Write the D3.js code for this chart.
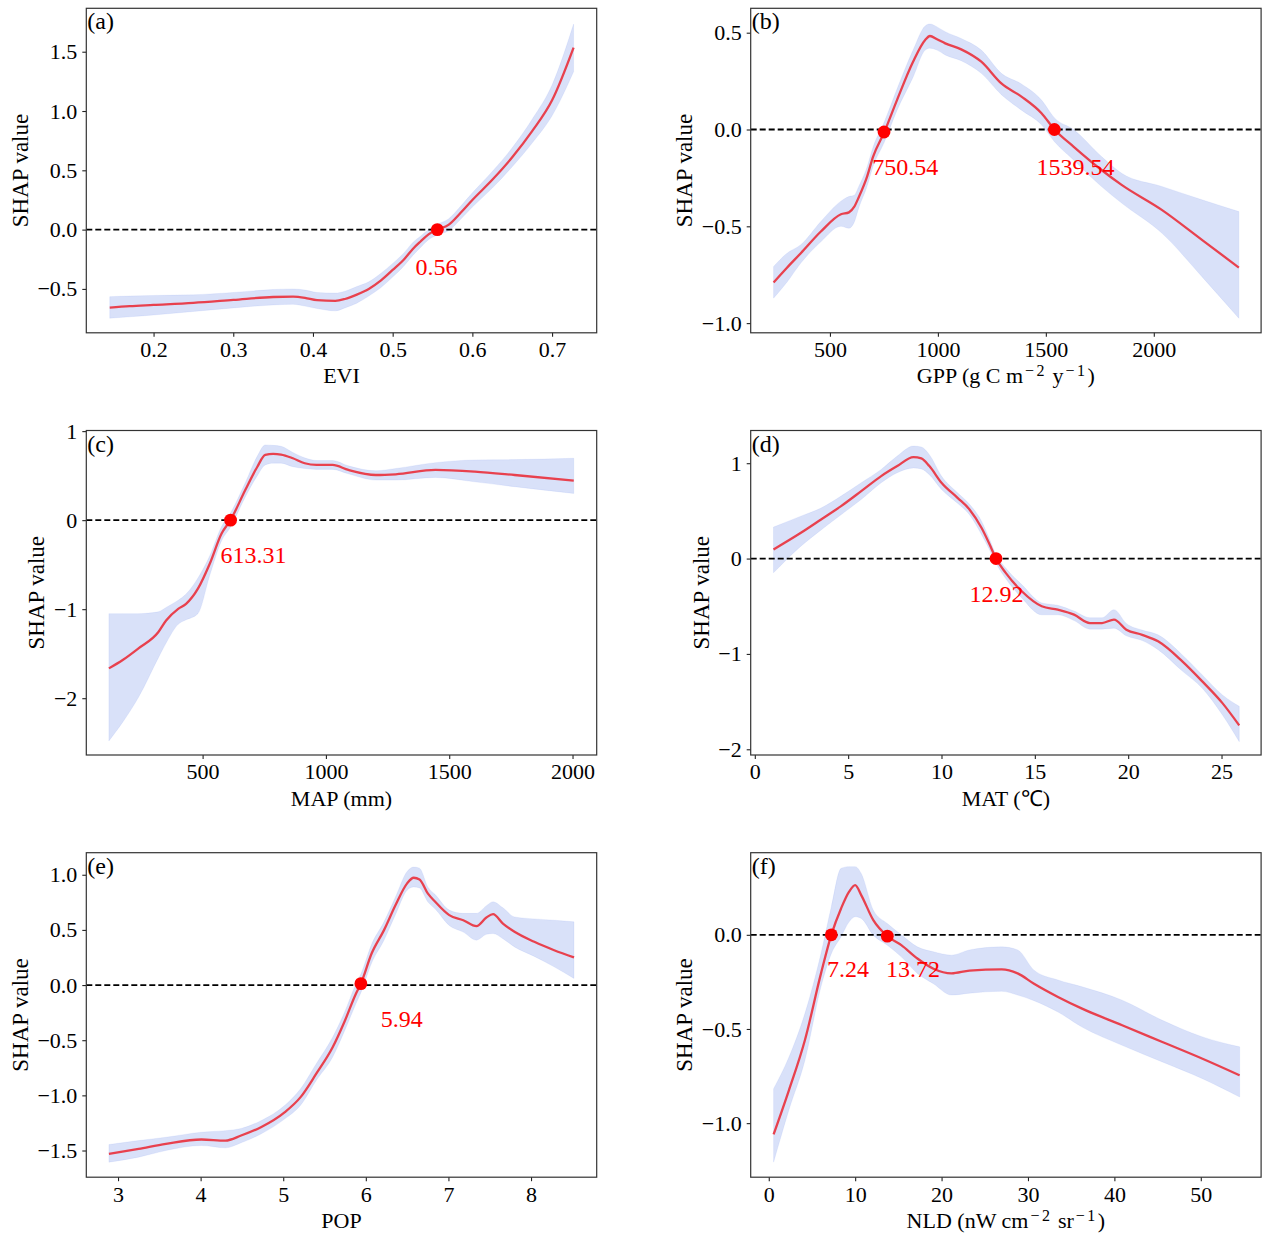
<!DOCTYPE html>
<html>
<head>
<meta charset="utf-8">
<script src="https://cdn.jsdelivr.net/npm/d3@7"></script>
<style>
	body { margin: 0; background: #fff; }
	svg text { font-family: "Liberation Serif", "Times New Roman", serif; }
</style>
</head>
<body>
<svg id="chart" width="1269" height="1249"></svg>
<script>
// (a) EVI
const eviX = [0.145, 0.17, 0.2, 0.25, 0.3, 0.35, 0.375, 0.39, 0.405, 0.428, 0.44, 0.455, 0.47, 0.485, 0.5, 0.515, 0.525, 0.535, 0.545, 0.556, 0.57, 0.585, 0.6, 0.625, 0.65, 0.675, 0.7, 0.727];
const eviShap = [-0.657, -0.645, -0.635, -0.618, -0.593, -0.568, -0.565, -0.575, -0.595, -0.600, -0.585, -0.548, -0.50, -0.43, -0.34, -0.245, -0.165, -0.10, -0.04, 0.0, 0.04, 0.14, 0.25, 0.42, 0.61, 0.83, 1.09, 1.534];
const eviHi = [-0.565, -0.56, -0.555, -0.55, -0.53, -0.505, -0.50, -0.51, -0.53, -0.535, -0.52, -0.48, -0.44, -0.37, -0.285, -0.19, -0.11, -0.055, 0.0, 0.045, 0.09, 0.195, 0.31, 0.49, 0.69, 0.93, 1.22, 1.733];
const eviLo = [-0.747, -0.735, -0.72, -0.69, -0.66, -0.635, -0.63, -0.645, -0.665, -0.685, -0.66, -0.62, -0.56, -0.49, -0.40, -0.30, -0.22, -0.15, -0.085, -0.045, -0.01, 0.085, 0.19, 0.35, 0.53, 0.73, 0.96, 1.331];
const eviCross = [0.556];
const eviCrossShap = [0.0];
const eviTicks = [0.2, 0.3, 0.4, 0.5, 0.6, 0.7];
const eviShapTicks = [-0.5, 0, 0.5, 1, 1.5];

// (b) GPP
const gppX = [239, 300, 365, 458, 551, 588, 612, 635, 670, 700, 752, 811, 885, 941, 963, 996, 1034, 1108, 1201, 1294, 1387, 1480, 1540, 1628, 1758, 1851, 2037, 2223, 2394];
const gppShap = [-0.790, -0.715, -0.639, -0.527, -0.438, -0.428, -0.40, -0.346, -0.25, -0.14, -0.013, 0.153, 0.35, 0.462, 0.483, 0.466, 0.445, 0.414, 0.35, 0.238, 0.17, 0.084, 0.0, -0.088, -0.209, -0.286, -0.415, -0.57, -0.713];
const gppHi = [-0.708, -0.64, -0.595, -0.475, -0.37, -0.346, -0.34, -0.29, -0.20, -0.09, 0.04, 0.21, 0.41, 0.535, 0.545, 0.53, 0.505, 0.47, 0.41, 0.29, 0.235, 0.152, 0.06, 0.0, -0.14, -0.226, -0.294, -0.363, -0.424];
const gppLo = [-0.871, -0.79, -0.69, -0.58, -0.50, -0.51, -0.48, -0.40, -0.30, -0.19, -0.065, 0.10, 0.27, 0.41, 0.42, 0.41, 0.385, 0.355, 0.29, 0.18, 0.10, 0.024, -0.063, -0.157, -0.295, -0.38, -0.535, -0.76, -0.975];
const gppCross = [750.54, 1539.54];
const gppCrossShap = [-0.013, 0.0];
const gppTicks = [500, 1000, 1500, 2000];
const gppShapTicks = [-1, -0.5, 0, 0.5];

// (c) MAP
const mapX = [120, 176, 240, 320, 352, 401, 433, 481, 529, 577, 613, 673, 722, 754, 786, 818, 866, 914, 962, 1027, 1091, 1203, 1283, 1444, 1604, 1765, 2005];
const mapShap = [-1.665, -1.571, -1.44, -1.259, -1.127, -0.996, -0.94, -0.77, -0.49, -0.15, 0.0, 0.338, 0.6, 0.733, 0.744, 0.737, 0.695, 0.639, 0.62, 0.62, 0.564, 0.507, 0.515, 0.564, 0.545, 0.507, 0.443];
const mapHi = [-1.05, -1.05, -1.05, -1.03, -0.98, -0.90, -0.83, -0.65, -0.40, -0.07, 0.08, 0.42, 0.72, 0.845, 0.84, 0.83, 0.76, 0.70, 0.67, 0.67, 0.61, 0.555, 0.58, 0.646, 0.676, 0.68, 0.695];
const mapLo = [-2.48, -2.27, -1.99, -1.55, -1.38, -1.17, -1.12, -1.05, -0.62, -0.23, -0.08, 0.26, 0.50, 0.62, 0.64, 0.64, 0.60, 0.58, 0.57, 0.57, 0.52, 0.45, 0.45, 0.48, 0.43, 0.376, 0.30];
const mapCross = [613.31];
const mapCrossShap = [0.0];
const mapTicks = [500, 1000, 1500, 2000];
const mapShapTicks = [-2, -1, 0, 1];

// (d) MAT
const matX = [1.0, 2.47, 3.55, 4.62, 5.7, 6.77, 7.63, 8.5, 8.92, 9.35, 10.0, 10.86, 11.5, 12.15, 12.58, 12.92, 13.44, 14.3, 15.37, 16.23, 17.1, 17.95, 18.6, 19.24, 19.9, 20.75, 21.6, 22.9, 23.97, 25.05, 25.95];
const matShap = [0.095, 0.27, 0.41, 0.55, 0.707, 0.865, 0.97, 1.064, 1.05, 0.97, 0.795, 0.637, 0.515, 0.32, 0.147, 0.0, -0.15, -0.343, -0.50, -0.536, -0.588, -0.676, -0.676, -0.64, -0.746, -0.80, -0.868, -1.078, -1.288, -1.516, -1.75];
const matHi = [0.33, 0.445, 0.53, 0.655, 0.795, 0.935, 1.075, 1.18, 1.17, 1.09, 0.865, 0.69, 0.57, 0.39, 0.20, 0.04, -0.10, -0.273, -0.465, -0.49, -0.55, -0.62, -0.62, -0.536, -0.68, -0.75, -0.80, -1.01, -1.22, -1.43, -1.55];
const matLo = [-0.15, 0.13, 0.30, 0.46, 0.62, 0.795, 0.90, 0.95, 0.94, 0.88, 0.725, 0.58, 0.46, 0.25, 0.09, -0.05, -0.21, -0.413, -0.59, -0.59, -0.65, -0.74, -0.74, -0.73, -0.81, -0.86, -0.955, -1.18, -1.36, -1.64, -1.92];
const matCross = [12.92];
const matCrossShap = [0.0];
const matTicks = [0, 5, 10, 15, 20, 25];
const matShapTicks = [-2, -1, 0, 1];

// (e) POP
const popX = [2.89, 3.25, 3.58, 4.01, 4.3, 4.49, 4.73, 5.02, 5.21, 5.40, 5.6, 5.74, 5.88, 5.94, 6.07, 6.22, 6.36, 6.5, 6.58, 6.65, 6.75, 6.84, 7.01, 7.18, 7.34, 7.46, 7.54, 7.66, 7.8, 8.04, 8.28, 8.52];
const popShap = [-1.531, -1.485, -1.44, -1.40, -1.41, -1.364, -1.289, -1.152, -1.016, -0.804, -0.562, -0.335, -0.078, 0.013, 0.286, 0.498, 0.725, 0.922, 0.973, 0.958, 0.831, 0.755, 0.634, 0.588, 0.534, 0.613, 0.643, 0.558, 0.483, 0.392, 0.316, 0.25];
const popHi = [-1.446, -1.41, -1.38, -1.334, -1.32, -1.30, -1.23, -1.09, -0.94, -0.713, -0.47, -0.25, 0.01, 0.10, 0.37, 0.573, 0.80, 1.03, 1.07, 1.06, 0.89, 0.82, 0.68, 0.65, 0.65, 0.72, 0.755, 0.70, 0.618, 0.60, 0.588, 0.573];
const popLo = [-1.606, -1.56, -1.50, -1.455, -1.476, -1.43, -1.35, -1.213, -1.09, -0.865, -0.65, -0.42, -0.17, -0.07, 0.20, 0.407, 0.64, 0.86, 0.89, 0.88, 0.755, 0.69, 0.54, 0.48, 0.407, 0.46, 0.467, 0.42, 0.346, 0.26, 0.165, 0.06];
const popCross = [5.94];
const popCrossShap = [0.013];
const popTicks = [3, 4, 5, 6, 7, 8];
const popShapTicks = [-1.5, -1, -0.5, 0, 0.5, 1];

// (f) NLD
const nldX = [0.56, 2.33, 4.18, 6.04, 7.24, 8.37, 9.3, 10.0, 10.7, 12.1, 13.72, 15.34, 17.2, 19.06, 21.15, 23.24, 26.96, 28.8, 30.7, 33.47, 36.26, 40.9, 45.55, 50.2, 54.5];
const nldShap = [-1.060, -0.826, -0.56, -0.206, 0.0, 0.14, 0.229, 0.264, 0.211, 0.078, -0.007, -0.055, -0.126, -0.18, -0.205, -0.19, -0.184, -0.205, -0.26, -0.33, -0.392, -0.48, -0.569, -0.658, -0.746];
const nldHi = [-0.817, -0.65, -0.418, -0.10, 0.149, 0.353, 0.362, 0.362, 0.326, 0.131, 0.06, 0.0, -0.064, -0.09, -0.108, -0.08, -0.064, -0.08, -0.188, -0.24, -0.276, -0.347, -0.454, -0.542, -0.595];
const nldLo = [-1.207, -0.93, -0.667, -0.276, -0.10, -0.01, 0.069, 0.096, 0.087, -0.002, -0.055, -0.117, -0.205, -0.26, -0.32, -0.31, -0.30, -0.32, -0.35, -0.41, -0.49, -0.587, -0.675, -0.764, -0.861];
const nldCross = [7.24, 13.72];
const nldCrossShap = [0.0, -0.007];
const nldTicks = [0, 10, 20, 30, 40, 50];
const nldShapTicks = [-1, -0.5, 0];

const config = {
	cols: [86.3, 750.7],
	rows: [8.3, 430.5, 852.7],
	width: 510.4,
	height: 324.5,
	line: '#e8414e',
	band: '#4169e1',
	dot: '#ff0000',
	font: 22,
	yLabelFont: 23,
	tagFont: 24,
	labelFont: 24
};

// x / y domains (matplotlib padded limits)
const panels = [
	{ tag: '(a)', x: eviX, y: eviShap, lo: eviLo, hi: eviHi, cx: eviCross, cy: eviCrossShap,
		xDomain: [0.1156, 0.756], yDomain: [-0.870, 1.866], xTicks: eviTicks, yTicks: eviShapTicks,
		xFmt: '.1f', yFmt: '.1f', xLabel: [['EVI']], labelDx: [-21.8], labelDy: 45 },
	{ tag: '(b)', x: gppX, y: gppShap, lo: gppLo, hi: gppHi, cx: gppCross, cy: gppCrossShap,
		xDomain: [133, 2497], yDomain: [-1.050, 0.626], xTicks: gppTicks, yTicks: gppShapTicks,
		xFmt: 'd', yFmt: '.1f', xLabel: [['GPP (g C m'], ['\u22122', 1], [' y'], ['\u22121', 1], [')']], labelDx: [-11.8, -17.8], labelDy: 45 },
	{ tag: '(c)', x: mapX, y: mapShap, lo: mapLo, hi: mapHi, cx: mapCross, cy: mapCrossShap,
		xDomain: [28.4, 2098], yDomain: [-2.638, 1.007], xTicks: mapTicks, yTicks: mapShapTicks,
		xFmt: 'd', yFmt: 'd', xLabel: [['MAP (mm)']], labelDx: [-10], labelDy: 43 },
	{ tag: '(d)', x: matX, y: matShap, lo: matLo, hi: matHi, cx: matCross, cy: matCrossShap,
		xDomain: [-0.22, 27.12], yDomain: [-2.06, 1.343], xTicks: matTicks, yTicks: matShapTicks,
		xFmt: 'd', yFmt: 'd', xLabel: [['MAT (\u2103)']], labelDx: [-26.5], labelDy: 43 },
	{ tag: '(e)', x: popX, y: popShap, lo: popLo, hi: popHi, cx: popCross, cy: popCrossShap,
		xDomain: [2.616, 8.795], yDomain: [-1.742, 1.2], xTicks: popTicks, yTicks: popShapTicks,
		xFmt: 'd', yFmt: '.1f', xLabel: [['POP']], labelDx: [19.8], labelDy: 42 },
	{ tag: '(f)', x: nldX, y: nldShap, lo: nldLo, hi: nldHi, cx: nldCross, cy: nldCrossShap,
		xDomain: [-2.09, 56.98], yDomain: [-1.287, 0.436], xTicks: nldTicks, yTicks: nldShapTicks,
		xFmt: 'd', yFmt: '.1f', xLabel: [['NLD (nW cm'], ['\u22122', 1], [' sr'], ['\u22121', 1], [')']], labelDx: [-4.4, -1.3], labelDy: 42 }
];

function drawPanel(svg, p, i) {
	const w = config.width, h = config.height;
	const left = config.cols[i % 2], top = config.rows[Math.floor(i / 2)];
	const g = svg.append('g').attr('transform', `translate(${left},${top})`);

	const x = d3.scaleLinear().domain(p.xDomain).range([0, w]);
	const y = d3.scaleLinear().domain(p.yDomain).range([h, 0]);
	const rows = p.x.map((d, k) => ({ x: d, y: p.y[k], lo: p.lo[k], hi: p.hi[k] }));

	g.append('path')
		.datum(rows)
		.attr('d', d3.area().x(d => x(d.x)).y0(d => y(d.lo)).y1(d => y(d.hi)).curve(d3.curveMonotoneX))
		.attr('fill', config.band)
		.attr('fill-opacity', 0.2)
		.attr('stroke', config.band)
		.attr('stroke-opacity', 0.08);

	g.append('path')
		.datum(rows)
		.attr('d', d3.line().x(d => x(d.x)).y(d => y(d.y)).curve(d3.curveMonotoneX))
		.attr('fill', 'none')
		.attr('stroke', config.line)
		.attr('stroke-width', 2.3);

	g.append('line')
		.attr('x1', 0).attr('x2', w)
		.attr('y1', y(0)).attr('y2', y(0))
		.attr('stroke', '#000')
		.attr('stroke-width', 1.8)
		.attr('stroke-dasharray', '6,3');

	const pts = p.cx.map((d, k) => ({ x: d, y: p.cy[k], dx: p.labelDx[k] }));

	g.append('g')
		.selectAll('circle')
		.data(pts)
		.enter()
		.append('circle')
		.attr('cx', d => x(d.x))
		.attr('cy', d => y(d.y))
		.attr('r', 6.4)
		.attr('fill', config.dot);

	g.append('g')
		.selectAll('text')
		.data(pts)
		.enter()
		.append('text')
		.attr('x', d => x(d.x) + d.dx)
		.attr('y', y(0) + p.labelDy)
		.attr('fill', config.dot)
		.style('font-size', config.labelFont + 'px')
		.text(d => d.x.toFixed(2));

	const xAxis = g.append('g')
		.attr('transform', `translate(0,${h})`)
		.call(d3.axisBottom(x).tickValues(p.xTicks).tickFormat(d3.format(p.xFmt)).tickSize(4).tickPadding(4.7));
	const yAxis = g.append('g')
		.call(d3.axisLeft(y).tickValues(p.yTicks).tickFormat(d3.format(p.yFmt)).tickSize(4).tickPadding(5));

	[xAxis, yAxis].forEach(a => {
		a.select('.domain').remove();
		a.selectAll('line').attr('stroke', '#222').attr('stroke-width', 1.1);
		a.selectAll('text').attr('fill', '#000').style('font-size', config.font + 'px').style('font-family', null);
	});

	g.append('rect')
		.attr('width', w).attr('height', h)
		.attr('fill', 'none')
		.attr('stroke', '#333')
		.attr('stroke-width', 1.2);

	g.append('text')
		.attr('x', 1).attr('y', 21)
		.style('font-size', config.tagFont + 'px')
		.text(p.tag);

	const xl = g.append('text')
		.attr('x', w / 2).attr('y', h + 50.5)
		.attr('text-anchor', 'middle')
		.style('font-size', config.font + 'px');
	p.xLabel.forEach(([t, sup], k) => {
		const prev = k > 0 && p.xLabel[k - 1][1];
		xl.append('tspan')
			.attr('dy', sup ? -7 : (prev ? 7 : 0))
			.attr('dx', sup ? 2 : 0)
			.style('font-size', sup ? '16px' : null)
			.style('letter-spacing', sup ? '2.5px' : null)
			.text(t);
	});

	const box = yAxis.node().getBBox();
	g.append('text')
		.attr('transform', `translate(${box.x - 9.6},${h / 2}) rotate(-90)`)
		.attr('text-anchor', 'middle')
		.style('font-size', config.yLabelFont + 'px')
		.text('SHAP value');
}

window.addEventListener('load', function() {
	const svg = d3.select('#chart');
	panels.forEach((p, i) => drawPanel(svg, p, i));
});
</script>
</body>
</html>
